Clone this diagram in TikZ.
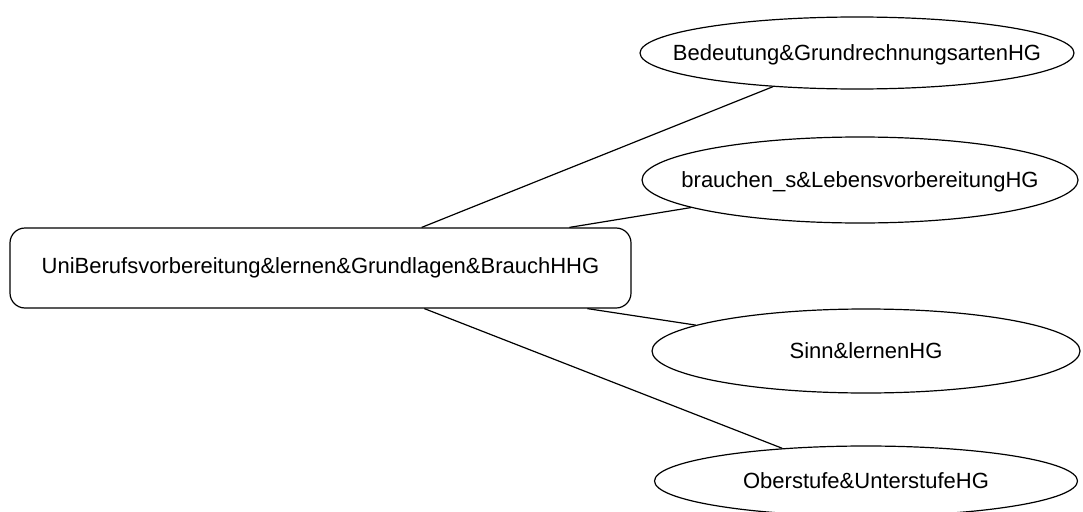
\documentclass[tikz,border=0pt]{standalone}
\usepackage{fontspec}
\setmainfont{Liberation Sans}
\usetikzlibrary{shapes.geometric}
% label whose box takes no room, so the ellipse keeps its given size
\newcommand{\flatlabel}[1]{\makebox[0pt]{\raisebox{-0.36em}[0pt][0pt]{#1}}}
\begin{document}
\begin{tikzpicture}[x=1pt,y=-1pt,
  every node/.style={font=\fontsize{22}{26}\selectfont, inner sep=0pt},
  topic/.style={draw, ellipse, line width=1.2pt},
  hub/.style={draw, rectangle, rounded corners=15pt, line width=1.2pt,
              minimum width=621pt, minimum height=80pt},
  link/.style={line width=1.2pt}]
\useasboundingbox (0,0) rectangle (1083,511);

% central concept
\node[hub] (hub) at (320.5,268) {UniBerufsvorbereitung\&lernen\&Grundlagen\&BrauchHHG};

% related concepts
\node[topic, minimum width=434pt, minimum height=72pt] (bed)  at (857,53)
  {\flatlabel{Bedeutung\&GrundrechnungsartenHG}};
\node[topic, minimum width=436pt, minimum height=86pt] (brau) at (860,180)
  {\flatlabel{brauchen\_s\&LebensvorbereitungHG}};
\node[topic, minimum width=428pt, minimum height=84pt] (sinn) at (866,351)
  {\flatlabel{Sinn\&lernenHG}};
\node[topic, minimum width=423pt, minimum height=70pt] (ober) at (866,481)
  {\flatlabel{Oberstufe\&UnterstufeHG}};

% connections
\draw[link] (hub) -- (bed);
\draw[link] (hub) -- (brau);
\draw[link] (hub) -- (sinn);
\draw[link] (hub) -- (ober);
\end{tikzpicture}
\end{document}
